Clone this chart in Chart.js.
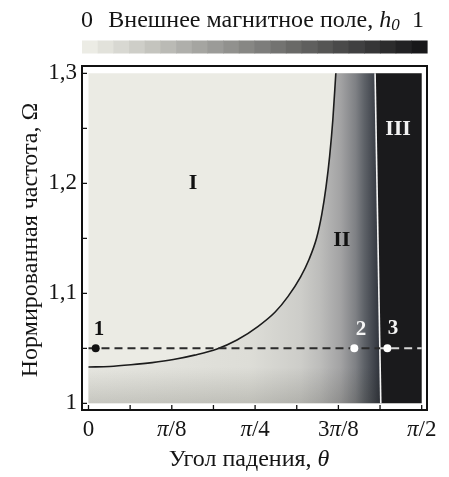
<!DOCTYPE html>
<html>
<head>
<meta charset="utf-8">
<style>
  html, body { margin: 0; padding: 0; background: #ffffff; overflow: hidden; }
  #wrap { position: relative; width: 449px; height: 477px; }
</style>
<script src="https://cdn.jsdelivr.net/npm/chart.js@4.4.1/dist/chart.umd.min.js"></script>
</head>
<body>
<div id="wrap"><canvas id="c" width="449" height="477"></canvas></div>
<script>
const PI = Math.PI;

// Boundary of region I (black curve): angle θ (rad) and normalised frequency Ω
const curveTheta = [0, 0.10, 0.20, 0.30, 0.40, 0.50, 0.606, 0.70, 0.80, 0.88, 0.94, 1.00, 1.04, 1.075, 1.10, 1.12, 1.137, 1.152, 1.166];
const curveOmega = [1.033, 1.0335, 1.035, 1.037, 1.0398, 1.0438, 1.0494, 1.0575, 1.070, 1.083, 1.097, 1.115, 1.131, 1.150, 1.172, 1.197, 1.225, 1.258, 1.30];

// Boundary between regions II and III (white line)
const edgeTheta = [1.378, 1.351];
const edgeOmega = [1.0, 1.3];

// Working frequency (dashed line) and where it enters region III
const workOmega = 1.05;
const workBreakTheta = 1.375;

// Marked points 1, 2, 3
const markTheta = [0.034, 1.253, 1.409];
const markNames = ['1', '2', '3'];
const markNameTheta = [0.0495, 1.2848, 1.4357];
const markNameOmega = [1.0666, 1.0666, 1.0675];

// Region labels
const regionNames = ['I', 'II', 'III'];
const regionTheta = [0.493, 1.194, 1.459];
const regionOmega = [1.2003, 1.1485, 1.2494];

// Axis ticks
const xTickValues = [0, PI / 8, PI / 4, 3 * PI / 8, PI / 2];
const xTickLabels = ['0', 'π/8', 'π/4', '3π/8', 'π/2'];
const xMinorTicks = [0, 1, 2, 3, 4, 5, 6, 7, 8].map(k => k * PI / 16);
const yTickValues = [1.0, 1.1, 1.2, 1.3];
const yTickLabels = ['1', '1,1', '1,2', '1,3'];
const yMinorTicks = [1.0, 1.05, 1.1, 1.15, 1.2, 1.25, 1.3];

// Shading of region II across θ (grey level of h0)
const shadeTheta = [0, 0.76, 1.0, 1.09, 1.19, 1.26, 1.30, 1.35, 1.378];
const shadeColor = ['rgb(231,231,225)', 'rgb(221,221,215)', 'rgb(205,205,201)', 'rgb(189,189,187)',
                    'rgb(162,162,163)', 'rgb(126,128,132)', 'rgb(94,98,104)', 'rgb(62,66,74)', 'rgb(44,48,56)'];

const lightColor = 'rgb(235,235,228)';
const darkColor = 'rgb(26,26,28)';
const FONT = "'Liberation Serif', 'Times New Roman', serif";
const THETA_MIN = 0, THETA_MAX = PI / 2, OMEGA_MIN = 1.0, OMEGA_MAX = 1.3;

const pts = (xs, ys) => xs.map((x, i) => ({ x, y: ys[i] }));

// Polygons built from the boundary arrays
const fullField = [
  { x: THETA_MIN, y: OMEGA_MIN }, { x: THETA_MAX, y: OMEGA_MIN },
  { x: THETA_MAX, y: OMEGA_MAX }, { x: THETA_MIN, y: OMEGA_MAX }
];
const region2 = [{ x: THETA_MIN, y: OMEGA_MIN }]
  .concat(pts(curveTheta, curveOmega))
  .concat([{ x: edgeTheta[1], y: edgeOmega[1] }, { x: edgeTheta[0], y: edgeOmega[0] }]);
const region3 = [
  { x: edgeTheta[0], y: edgeOmega[0] }, { x: edgeTheta[1], y: edgeOmega[1] },
  { x: THETA_MAX, y: OMEGA_MAX }, { x: THETA_MAX, y: OMEGA_MIN }
];
const lowBand = [
  { x: THETA_MIN, y: OMEGA_MIN }, { x: edgeTheta[0], y: OMEGA_MIN },
  { x: edgeTheta[0] - 0.003, y: curveOmega[0] }, { x: THETA_MIN, y: curveOmega[0] }
];

function shadeGradient(context) {
  const chart = context.chart;
  if (!chart.chartArea) return lightColor;
  const sx = chart.scales.x;
  const x0 = sx.getPixelForValue(shadeTheta[0]);
  const x1 = sx.getPixelForValue(shadeTheta[shadeTheta.length - 1]);
  const g = chart.ctx.createLinearGradient(x0, 0, x1, 0);
  const span = shadeTheta[shadeTheta.length - 1] - shadeTheta[0];
  shadeTheta.forEach((t, i) => g.addColorStop((t - shadeTheta[0]) / span, shadeColor[i]));
  return g;
}

function bandGradient(context) {
  const chart = context.chart;
  if (!chart.chartArea) return 'rgba(0,0,0,0)';
  const sy = chart.scales.y;
  const g = chart.ctx.createLinearGradient(0, sy.getPixelForValue(curveOmega[0]), 0, sy.getPixelForValue(OMEGA_MIN));
  g.addColorStop(0, 'rgba(40,40,30,0)');
  g.addColorStop(1, 'rgba(40,40,30,0.17)');
  return g;
}

function polygon(data, fillColor, order) {
  return {
    data, order, fill: 'shape', backgroundColor: fillColor,
    borderWidth: 0, borderColor: 'rgba(0,0,0,0)', pointRadius: 0, tension: 0, showLine: true
  };
}

// Draws a run of text pieces with individual styles
function drawRich(ctx, parts, x, y, align) {
  let total = 0;
  parts.forEach(p => {
    ctx.font = (p.bold ? 'bold ' : '') + (p.italic ? 'italic ' : '') + p.size + 'px ' + FONT;
    p.w = ctx.measureText(p.t).width;
    total += p.w;
  });
  let cx = align === 'center' ? x - total / 2 : (align === 'right' ? x - total : x);
  ctx.textAlign = 'left';
  ctx.textBaseline = 'alphabetic';
  parts.forEach(p => {
    ctx.font = (p.bold ? 'bold ' : '') + (p.italic ? 'italic ' : '') + p.size + 'px ' + FONT;
    ctx.fillText(p.t, cx, y + (p.dy || 0));
    cx += p.w;
  });
}

function piParts(label, size) {
  const parts = [];
  for (const ch of label) {
    if (ch === 'π') parts.push({ t: ch, italic: true, size });
    else if (parts.length && !parts[parts.length - 1].italic) parts[parts.length - 1].t += ch;
    else parts.push({ t: ch, size });
  }
  return parts;
}

const decor = {
  id: 'decor',
  afterDatasetsDraw(chart) {
    const { ctx, chartArea: a, scales } = chart;
    const sx = scales.x, sy = scales.y;
    ctx.save();

    // region names
    ctx.textAlign = 'center';
    ctx.textBaseline = 'middle';
    ctx.font = 'bold 22px ' + FONT;
    regionNames.forEach((n, i) => {
      ctx.fillStyle = i === 2 ? '#f2f2f2' : '#111111';
      ctx.fillText(n, sx.getPixelForValue(regionTheta[i]), sy.getPixelForValue(regionOmega[i]));
    });
    // point names
    ctx.font = 'bold 21px ' + FONT;
    markNames.forEach((n, i) => {
      ctx.fillStyle = i === 0 ? '#111111' : '#f4f4f4';
      ctx.fillText(n, sx.getPixelForValue(markNameTheta[i]), sy.getPixelForValue(markNameOmega[i]));
    });

    // frame
    ctx.strokeStyle = '#111111';
    ctx.lineWidth = 2;
    ctx.strokeRect(a.left, a.top, a.right - a.left, a.bottom - a.top);

    // inward ticks
    ctx.lineWidth = 1.3;
    ctx.beginPath();
    xMinorTicks.forEach(v => {
      const px = sx.getPixelForValue(v);
      ctx.moveTo(px, a.bottom);
      ctx.lineTo(px, a.bottom - 5);
    });
    yMinorTicks.forEach(v => {
      const py = sy.getPixelForValue(v);
      ctx.moveTo(a.left, py);
      ctx.lineTo(a.left + 5, py);
    });
    ctx.stroke();

    ctx.fillStyle = '#151515';
    // x tick labels
    xTickValues.forEach((v, i) => {
      drawRich(ctx, piParts(xTickLabels[i], 23), sx.getPixelForValue(v), 436, 'center');
    });
    // x title
    drawRich(ctx, [{ t: 'Угол падения, ', size: 24 }, { t: 'θ', italic: true, size: 24 }], 249, 466, 'center');
    // y title
    ctx.save();
    ctx.translate(37, 240);
    ctx.rotate(-PI / 2);
    drawRich(ctx, [{ t: 'Нормированная частота, Ω', size: 24 }], 0, 0, 'center');
    ctx.restore();

    // colour bar
    const barLeft = a.left, barRight = a.right, barTop = 40.5, barBottom = 53.5;
    const steps = 22;
    const c0 = [236, 236, 229], c1 = [24, 24, 26];
    const w = (barRight - barLeft) / steps;
    for (let i = 0; i < steps; i++) {
      const t = i / (steps - 1);
      const c = c0.map((v, k) => Math.round(v + (c1[k] - v) * t));
      ctx.fillStyle = 'rgb(' + c.join(',') + ')';
      ctx.fillRect(barLeft + i * w, barTop, w + 0.6, barBottom - barTop);
    }
    ctx.fillStyle = '#151515';
    drawRich(ctx, [{ t: '0', size: 24 }], 87, 27, 'center');
    drawRich(ctx, [{ t: '1', size: 24 }], 418, 27, 'center');
    drawRich(ctx, [
      { t: 'Внешнее магнитное поле, ', size: 24 },
      { t: 'h', italic: true, size: 24 },
      { t: '0', italic: true, size: 17, dy: 3 }
    ], 254, 27, 'center');

    ctx.restore();
  }
};

new Chart(document.getElementById('c'), {
  type: 'line',
  data: {
    datasets: [
      polygon(fullField, lightColor, 20),
      polygon(region2, shadeGradient, 19),
      polygon(region3, darkColor, 18),
      polygon(lowBand, bandGradient, 17),
      {
        data: pts(curveTheta, curveOmega), order: 10, borderColor: '#1c1c1c', borderWidth: 1.6,
        pointRadius: 0, fill: false, cubicInterpolationMode: 'monotone'
      },
      {
        data: pts(edgeTheta, edgeOmega), order: 9, borderColor: '#f4f4f4', borderWidth: 1.6,
        pointRadius: 0, fill: false
      },
      {
        data: [{ x: THETA_MIN, y: workOmega }, { x: workBreakTheta, y: workOmega }], order: 8,
        borderColor: '#2b2b2b', borderWidth: 2, borderDash: [8, 5], pointRadius: 0, fill: false
      },
      {
        data: [{ x: workBreakTheta, y: workOmega }, { x: THETA_MAX, y: workOmega }], order: 7,
        borderColor: '#d6d6d6', borderWidth: 2, borderDash: [8, 5], borderDashOffset: 2, pointRadius: 0, fill: false
      },
      {
        data: markTheta.map(t => ({ x: t, y: workOmega })), order: 1, showLine: false, fill: false,
        pointRadius: 4, pointBorderWidth: 0,
        pointBackgroundColor: ['#111111', '#ffffff', '#ffffff']
      }
    ]
  },
  options: {
    responsive: false,
    animation: false,
    devicePixelRatio: 1,
    layout: { padding: { left: 0, right: 22, top: 66, bottom: 0 } },
    plugins: { legend: { display: false }, tooltip: { enabled: false } },
    scales: {
      x: {
        type: 'linear', min: -0.0306, max: 1.5958,
        grid: { display: false, drawTicks: false }, border: { display: false },
        ticks: { display: false },
        afterFit(s) { s.height = 67; }
      },
      y: {
        type: 'linear', min: 0.99391, max: 1.30664,
        grid: { display: false, drawTicks: false }, border: { display: false },
        afterBuildTicks(s) { s.ticks = yTickValues.map(v => ({ value: v })); },
        ticks: {
          autoSkip: false, padding: 5, color: '#151515',
          font: { family: FONT, size: 23 },
          callback(v) {
            const i = yTickValues.findIndex(t => Math.abs(t - v) < 1e-6);
            return i >= 0 ? yTickLabels[i] : '';
          }
        },
        afterFit(s) { s.width = 82; }
      }
    }
  },
  plugins: [decor]
});
</script>
</body>
</html>
